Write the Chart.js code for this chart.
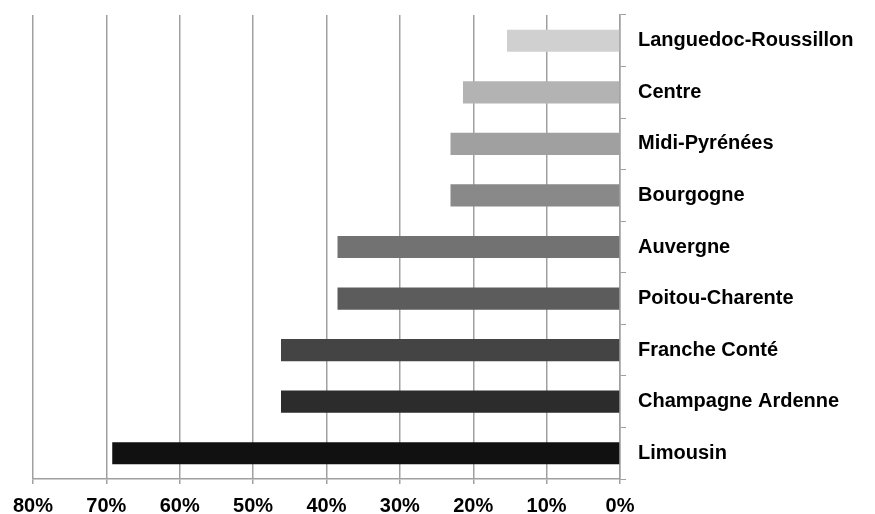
<!DOCTYPE html>
<html>
<head>
<meta charset="utf-8">
<script src="https://cdn.jsdelivr.net/npm/chart.js@4/dist/chart.umd.min.js"></script>
<style>
  html, body { margin: 0; padding: 0; background: #ffffff; }
  #wrap { width: 875px; height: 514px; }
</style>
</head>
<body>
<div id="wrap"><canvas id="c" width="875" height="514"></canvas></div>
<script>
// Regions, top to bottom
const regions = [
  'Languedoc-Roussillon', 'Centre', 'Midi-Pyrénées', 'Bourgogne', 'Auvergne',
  'Poitou-Charente', 'Franche Conté', 'Champagne Ardenne', 'Limousin'
];
// Share per region, in percent
const shares = [15.4, 21.4, 23.1, 23.1, 38.5, 38.5, 46.2, 46.2, 69.2];
// Grey ramp, light to dark
const barColors = [
  '#d0d0d0', '#b3b3b3', '#a0a0a0', '#898989', '#727272',
  '#5c5c5c', '#444444', '#2c2c2c', '#111111'
];
const xTicks = [0, 10, 20, 30, 40, 50, 60, 70, 80];

const FONT = "'Liberation Sans', Arial, sans-serif";

new Chart(document.getElementById('c'), {
  type: 'bar',
  data: {
    labels: regions,
    datasets: [{
      data: shares,
      backgroundColor: barColors,
      borderWidth: 0,
      barPercentage: 0.43,
      categoryPercentage: 1.0
    }]
  },
  options: {
    indexAxis: 'y',
    responsive: false,
    animation: false,
    devicePixelRatio: 1,
    layout: { padding: { left: 33, top: 15, right: 0, bottom: 0 } },
    plugins: { legend: { display: false }, tooltip: { enabled: false } },
    scales: {
      x: {
        reverse: true,
        min: 0,
        max: 80,
        afterBuildTicks: (axis) => { axis.ticks = xTicks.map(v => ({ value: v })); },
        afterFit: (axis) => { axis.height = 35; },
        grid: {
          color: '#a0a0a0',
          lineWidth: 1.5,
          drawTicks: true,
          tickLength: 5,
          tickColor: '#a0a0a0'
        },
        border: { color: '#a0a0a0', width: 1.5 },
        ticks: {
          color: '#000000',
          font: { family: FONT, size: 20, weight: 'bold' },
          padding: 10,
          maxRotation: 0,
          callback: (v) => v + '%'
        }
      },
      y: {
        position: 'right',
        afterFit: (axis) => {
          axis.width = 255;
          axis.paddingTop = 0;
          axis.paddingBottom = 0;
        },
        grid: {
          offset: true,
          drawOnChartArea: false,
          drawTicks: true,
          tickLength: 6,
          tickColor: '#a0a0a0'
        },
        border: { color: '#a0a0a0', width: 1.5 },
        ticks: {
          color: '#000000',
          font: { family: FONT, size: 20, weight: 'bold' },
          padding: 12,
          crossAlign: 'near'
        }
      }
    }
  }
});
</script>
</body>
</html>
